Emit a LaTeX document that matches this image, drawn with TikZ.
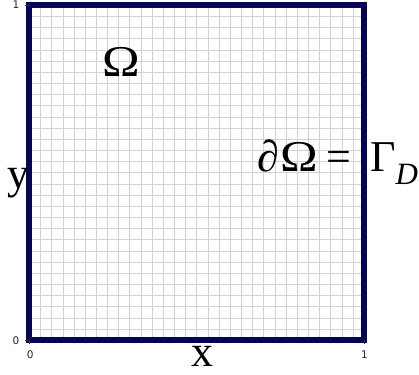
\documentclass[tikz,border=0pt]{standalone}
\usepackage{fontspec}
\usepackage{graphicx}
\setmainfont{Liberation Serif}
\newfontfamily\tickfont{DejaVu Sans}
\usetikzlibrary{positioning}
\definecolor{BorderNavy}{RGB}{5,5,85}
\definecolor{GridGray}{RGB}{210,210,210}
\tikzset{
  gridline/.style={draw=GridGray,line width=0.9pt},
  border/.style={draw=BorderNavy,line width=6pt},
  tickmark/.style={draw=black!80,line width=0.6pt},
  ticklab/.style={font=\tickfont\fontsize{10.5}{10.5}\selectfont,inner sep=0pt,text=black!85},
  lab/.style={font=\fontsize{44}{44}\selectfont,inner sep=0pt},
}
\newcommand{\wideOm}{\scalebox{1.15}[1]{Ω}}
\newcommand{\subD}{\raisebox{-0.28em}{\fontsize{31}{31}\selectfont\itshape D}}

\begin{document}
\begin{tikzpicture}[x=335pt,y=335pt]
\useasboundingbox (-0.088,-0.103) rectangle (1.163,1.016);
% mesh of the unit square
\foreach \i in {1,...,29}{\draw[gridline] (\i/30,0)--(\i/30,1);\draw[gridline] (0,\i/30)--(1,\i/30);}
\draw[border] (0,0) rectangle (1,1);
% axis ticks
\coordinate (O) at (0,0);\coordinate (X1) at (1,0);\coordinate (Y1) at (0,1);
\draw[tickmark] (O)--++(-4pt,0);\draw[tickmark] (Y1)--++(-4pt,0);
\draw[tickmark] (O)--++(0,-4pt);\draw[tickmark] (X1)--++(0,-4pt);
\node[ticklab](ly0) at (-0.040,0.000){0};\node[ticklab](ly1) at (-0.040,1.001){1};
\node[ticklab](lx0) at (0.002,-0.043){0};\node[ticklab](lx1) at (1.000,-0.043){1};
% labels
\node[lab,anchor=base](om) at (0.273,0.787){\wideOm};
\node[lab](ylab) at (-0.034,0.470){y};
\node[lab,anchor=base](xlab) at (0.518,-0.079){x};
\node[lab,anchor=base west](bd) at (0.679,0.503){\textit{∂}\hspace{2pt}\wideOm\hspace{8pt}=\hspace{19pt}Γ\subD};
\end{tikzpicture}
\end{document}
